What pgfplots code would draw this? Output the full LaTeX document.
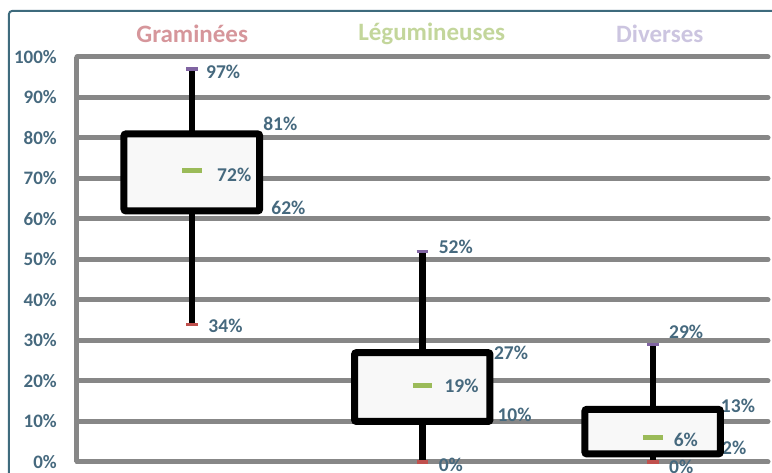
\documentclass[border=0pt]{standalone}
\usepackage{fontspec}
\setmainfont{Carlito}
\usepackage{pgfplots}
\pgfplotsset{compat=1.18}
\definecolor{gridgray}{HTML}{878787}
\definecolor{labcol}{HTML}{46697E}
\definecolor{bordcol}{HTML}{3E6B7D}
\definecolor{tA}{HTML}{D6969B}
\definecolor{tB}{HTML}{C3D69B}
\definecolor{tC}{HTML}{CCC5E0}
\definecolor{capmax}{HTML}{8064A2}
\definecolor{capmin}{HTML}{C0504D}
\definecolor{medcol}{HTML}{9BBB59}
\definecolor{boxfill}{HTML}{F8F8F8}
\newcommand{\lab}{\fontsize{19.5}{19.5}\selectfont\bfseries}
\begin{document}
\begin{tikzpicture}
\begin{axis}[
  at={(0,0)}, anchor=south west,
  scale only axis, width=691pt, height=405pt,
  xmin=-0.5, xmax=2.5, ymin=0, ymax=100,
  clip=false,
  axis x line=none,
  axis y line*=left,
  y axis line style={gridgray, line width=5pt, -},
  ytick={0,10,...,100},
  major tick length=0pt,
  yticklabel={\pgfmathprintnumber{\tick}\%},
  yticklabel style={anchor=east, inner sep=0pt, xshift=-20pt, font=\fontsize{19}{19}\selectfont\bfseries, text=labcol},
  /pgf/number format/assume math mode=true,
  ymajorgrids,
  major grid style={gridgray, line width=5pt, line cap=round},
]
% whiskers
\addplot[black, line width=6.5pt] coordinates {(0,34) (0,62)};
\addplot[black, line width=6.5pt] coordinates {(0,81) (0,97)};
\addplot[black, line width=6.5pt] coordinates {(1,0) (1,10)};
\addplot[black, line width=6.5pt] coordinates {(1,27) (1,52)};
\addplot[black, line width=6.5pt] coordinates {(2,0) (2,2)};
\addplot[black, line width=6.5pt] coordinates {(2,13) (2,29)};
% caps
\addplot[capmax, line width=3.5pt] coordinates {(-0.026,97) (0.026,97)};
\addplot[capmin, line width=3.5pt] coordinates {(-0.026,34) (0.026,34)};
\addplot[capmax, line width=3.5pt] coordinates {(0.974,52) (1.026,52)};
\addplot[capmin, line width=3.5pt] coordinates {(0.974,0) (1.026,0)};
\addplot[capmax, line width=3.5pt] coordinates {(1.974,29) (2.026,29)};
\addplot[capmin, line width=3.5pt] coordinates {(1.974,0) (2.026,0)};
% boxes
\addplot[draw=black, fill=boxfill, line width=7pt, rounded corners=2pt] coordinates {(-0.296,62) (0.293,62) (0.293,81) (-0.296,81)} -- cycle;
\addplot[draw=black, fill=boxfill, line width=7pt, rounded corners=2pt] coordinates {(0.705,10) (1.293,10) (1.293,27) (0.705,27)} -- cycle;
% medians
\addplot[medcol, line width=5pt] coordinates {(-0.043,72) (0.043,72)};
\addplot[medcol, line width=5pt] coordinates {(0.957,19) (1.043,19)};
% labels
\begin{scope}[every node/.style={anchor=west, inner sep=0pt, text=labcol, font=\lab}]
\node[yshift=-3pt] at (axis cs:0.06,97) {97\%};
\node[yshift=10pt] at (axis cs:0.308,81) {81\%};
\node[yshift=-4pt] at (axis cs:0.108,72) {72\%};
\node[yshift=3pt] at (axis cs:0.343,62) {62\%};
\node[yshift=-2pt] at (axis cs:0.07,34) {34\%};
\node[yshift=5pt] at (axis cs:1.07,52) {52\%};
\node[yshift=0pt] at (axis cs:1.31,27) {27\%};
\node[yshift=-1pt] at (axis cs:1.095,19) {19\%};
\node[yshift=7pt] at (axis cs:1.325,10) {10\%};
\node[yshift=-3pt] at (axis cs:1.07,0) {0\%};
\node[yshift=13pt] at (axis cs:2.07,29) {29\%};
\node[yshift=3pt] at (axis cs:2.295,13) {13\%};
\node[yshift=-5pt] at (axis cs:2.07,0) {0\%};
\node[yshift=6pt] at (axis cs:2.30,2) {2\%};
\end{scope}
\addplot[draw=black, fill=boxfill, line width=7pt, rounded corners=2pt] coordinates {(1.705,2) (2.293,2) (2.293,13) (1.705,13)} -- cycle;
\addplot[medcol, line width=5pt] coordinates {(1.957,6) (2.043,6)};
\node[anchor=west, inner sep=0pt, text=labcol, font=\lab, yshift=-2pt] at (axis cs:2.09,6) {6\%};
% titles
\begin{scope}[every node/.style={inner sep=0pt, font=\fontsize{25}{25}\selectfont\bfseries}]
\node[text=tA] at (axis cs:0,105.7) {Graminées};
\node[text=tB] at (axis cs:1.04,105.7) {Légumineuses};
\node[text=tC] at (axis cs:2.03,105.7) {Diverses};
\end{scope}
\end{axis}
\draw[bordcol, line width=2pt, rounded corners=3pt] (-68pt,-30pt) -- (-68pt,451pt) -- (720pt,451pt);
\pgfresetboundingbox
\useasboundingbox (-77pt,-11pt) rectangle (695pt,462pt);
\end{tikzpicture}
\end{document}
